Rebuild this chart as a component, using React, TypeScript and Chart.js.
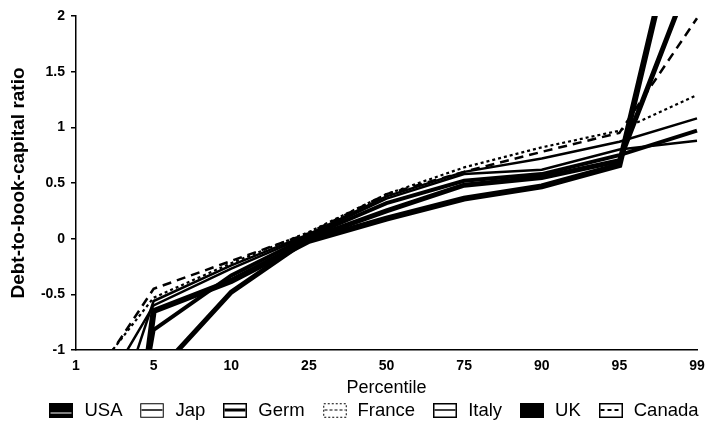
import React, { useEffect, useRef } from "react";
import { Chart, registerables } from "chart.js";

Chart.register(...registerables);

const percentiles = ["1", "5", "10", "25", "50", "75", "90", "95", "99"];

const usa = [-3.0, -1.24, -0.48, 0.0, 0.25, 0.48, 0.55, 0.7, 2.5];
const jap = [-1.78, -0.6, -0.27, 0.03, 0.36, 0.58, 0.62, 0.8, 0.88];
const germ = [-4.8, -0.82, -0.33, 0.02, 0.32, 0.52, 0.58, 0.75, 0.97];
const france = [-1.42, -0.53, -0.22, 0.06, 0.4, 0.64, 0.82, 0.97, 1.29];
const italy = [-2.66, -0.56, -0.24, 0.04, 0.38, 0.6, 0.72, 0.87, 1.08];
const uk = [-6.0, -0.65, -0.38, -0.02, 0.18, 0.36, 0.47, 0.66, 3.6];
const canada = [-1.5, -0.45, -0.2, 0.05, 0.4, 0.6, 0.78, 0.95, 1.98];

const seriesNames = ["USA", "Jap", "Germ", "France", "Italy", "UK", "Canada"];
const seriesValues = [usa, jap, germ, france, italy, uk, canada];

const FONT = "'Liberation Sans', Arial, Helvetica, sans-serif";

type Style = {
  width: number;
  dash: number[];
  symFill: string;
  symOutline: number;
  symOutlineDash: number[];
  symLine: number;
  symLineColor: string;
  symLineDash: number[];
  symLineY: number;
};

const styles: Style[] = [
  { width: 5, dash: [], symFill: "#000", symOutline: 1.5, symOutlineDash: [], symLine: 1, symLineColor: "#fff", symLineDash: [], symLineY: 10 },
  { width: 2.5, dash: [], symFill: "#fff", symOutline: 1, symOutlineDash: [], symLine: 1.5, symLineColor: "#000", symLineDash: [], symLineY: 7 },
  { width: 4, dash: [], symFill: "#fff", symOutline: 1.5, symOutlineDash: [], symLine: 3, symLineColor: "#000", symLineDash: [], symLineY: 7 },
  { width: 2.2, dash: [3, 3], symFill: "#fff", symOutline: 1, symOutlineDash: [2, 2], symLine: 1, symLineColor: "#000", symLineDash: [3, 2], symLineY: 7 },
  { width: 2.5, dash: [], symFill: "#fff", symOutline: 1.5, symOutlineDash: [], symLine: 1.5, symLineColor: "#000", symLineDash: [], symLineY: 7 },
  { width: 6, dash: [], symFill: "#000", symOutline: 1.5, symOutlineDash: [], symLine: 0, symLineColor: "#000", symLineDash: [], symLineY: 7 },
  { width: 2.5, dash: [9, 6], symFill: "#fff", symOutline: 1.5, symOutlineDash: [], symLine: 2, symLineColor: "#000", symLineDash: [4, 3], symLineY: 7 },
];

const SYM_W = 24;
const SYM_H = 15;

function makeSymbol(s: Style): HTMLCanvasElement {
  const c = document.createElement("canvas");
  c.width = SYM_W;
  c.height = SYM_H;
  const g = c.getContext("2d")!;
  g.fillStyle = s.symFill;
  g.fillRect(0, 0, SYM_W, SYM_H);
  g.strokeStyle = "#000";
  g.lineWidth = s.symOutline;
  g.setLineDash(s.symOutlineDash);
  g.strokeRect(0.75, 0.75, SYM_W - 1.5, SYM_H - 1.5);
  if (s.symLine > 0) {
    g.strokeStyle = s.symLineColor;
    g.lineWidth = s.symLine;
    g.setLineDash(s.symLineDash);
    g.beginPath();
    g.moveTo(1.5, s.symLineY);
    g.lineTo(SYM_W - 1.5, s.symLineY);
    g.stroke();
  }
  return c;
}

export default function App() {
  const ref = useRef<HTMLCanvasElement | null>(null);

  useEffect(() => {
    if (!ref.current) return;
    const symbols = styles.map(makeSymbol);

    const customLegend = {
      id: "customLegend",
      afterDraw(chart: any) {
        const ctx = chart.ctx as CanvasRenderingContext2D;
        ctx.save();
        ctx.font = `18.5px ${FONT}`;
        ctx.textBaseline = "middle";
        ctx.textAlign = "left";
        ctx.fillStyle = "#000";
        const boxGap = 11;
        const itemGap = 18;
        const widths = seriesNames.map((n) => ctx.measureText(n).width);
        const total =
          widths.reduce((a, w) => a + SYM_W + boxGap + w, 0) + itemGap * (seriesNames.length - 1);
        let x = 374 - total / 2;
        const y = 410;
        seriesNames.forEach((n, i) => {
          ctx.drawImage(symbols[i], Math.round(x), Math.round(y - SYM_H / 2));
          x += SYM_W + boxGap;
          ctx.fillText(n, x, y + 1);
          x += widths[i] + itemGap;
        });
        ctx.restore();
      },
    };

    const chart = new Chart(ref.current, {
      type: "line",
      plugins: [customLegend],
      data: {
        labels: percentiles,
        datasets: seriesNames.map((name, i) => ({
          label: name,
          data: seriesValues[i],
          borderColor: "#000",
          backgroundColor: "#000",
          borderWidth: styles[i].width,
          borderDash: styles[i].dash,
          pointRadius: 0,
          tension: 0,
          fill: false,
        })),
      },
      options: {
        responsive: false,
        animation: false,
        events: [],
        layout: { padding: { top: 16, right: 11, left: 0, bottom: 47 } },
        plugins: {
          tooltip: { enabled: false },
          legend: { display: false },
        },
        scales: {
          x: {
            type: "category",
            offset: false,
            grid: { display: false },
            border: { display: true, color: "#000", width: 1.5 },
            ticks: {
              color: "#000",
              autoSkip: false,
              maxRotation: 0,
              padding: 0,
              font: { family: FONT, size: 14, weight: "bold" },
            },
            title: {
              display: true,
              text: "Percentile",
              color: "#000",
              font: { family: FONT, size: 18 },
              padding: { top: 0, bottom: -20.8 },
            },
            afterFit: (s: any) => {
              s.height = 28;
            },
          },
          y: {
            min: -1,
            max: 2,
            ticks: {
              stepSize: 0.5,
              color: "#000",
              padding: 6,
              font: { family: FONT, size: 14, weight: "bold" },
              callback: (v: any) => String(v),
            },
            grid: {
              drawOnChartArea: false,
              drawTicks: true,
              tickLength: 5,
              color: "#000",
              lineWidth: 1.5,
            },
            border: { display: true, color: "#000", width: 1.5 },
            title: {
              display: true,
              text: "Debt-to-book-capital ratio",
              color: "#000",
              font: { family: FONT, size: 19, weight: "bold" },
              padding: { top: 7, bottom: 0 },
            },
            afterFit: (s: any) => {
              s.width = 76;
            },
          },
        },
      },
    });
    return () => chart.destroy();
  }, []);

  return (
    <div style={{ position: "fixed", left: 0, top: 0, width: 708, height: 425, background: "#fff" }}>
      <canvas ref={ref} width={708} height={425} style={{ display: "block" }} />
    </div>
  );
}
